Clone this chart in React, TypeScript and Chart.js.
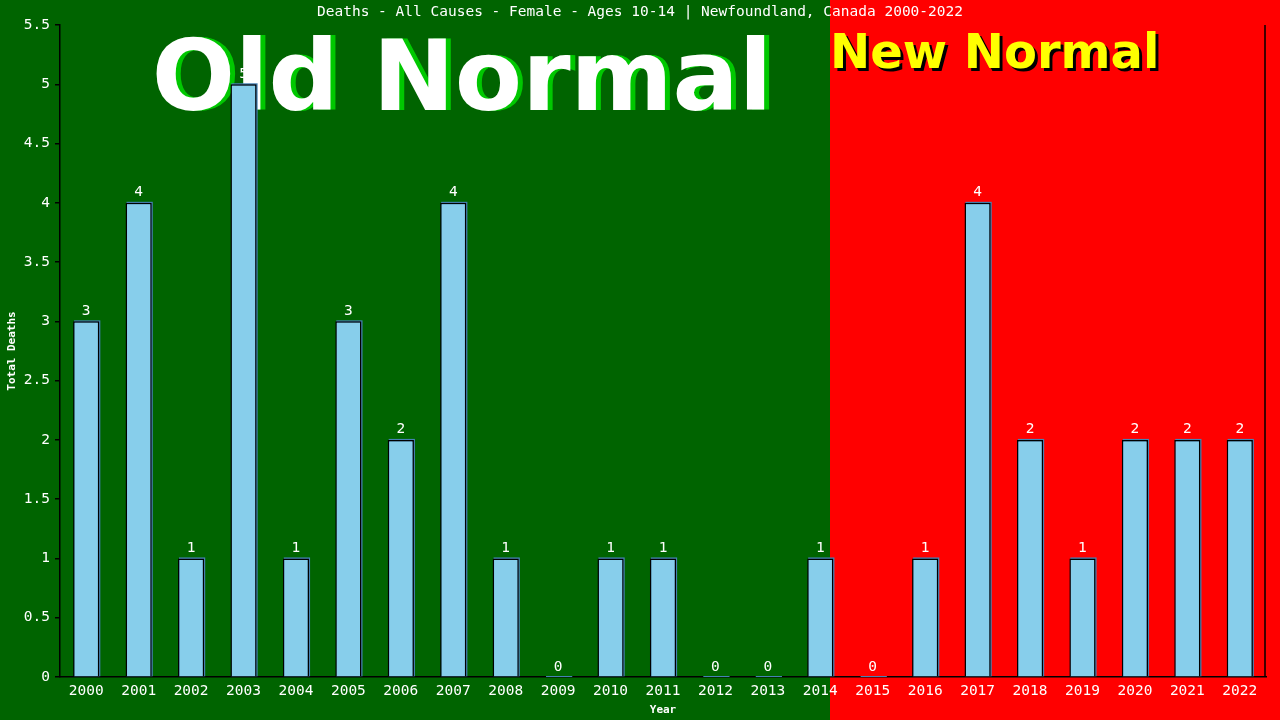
import React, { useEffect, useRef } from 'react';
import { Chart, registerables } from 'chart.js';

Chart.register(...registerables);

const years = [
  '2000', '2001', '2002', '2003', '2004', '2005', '2006', '2007', '2008', '2009', '2010', '2011',
  '2012', '2013', '2014', '2015', '2016', '2017', '2018', '2019', '2020', '2021', '2022',
];
const deaths = [3, 4, 1, 5, 1, 3, 2, 4, 1, 0, 1, 1, 0, 0, 1, 0, 1, 4, 2, 1, 2, 2, 2];
const lastOldNormalIndex = 14;
const chartTitle = 'Deaths - All Causes - Female - Ages 10-14 | Newfoundland, Canada 2000-2022';

const monoFont = '"DejaVu Sans Mono", monospace';

const backdropPlugin = {
  id: 'backdrop',
  beforeDraw(chart: any) {
    const { ctx, width, height, scales } = chart;
    const split = Math.round(scales.x.getPixelForValue(lastOldNormalIndex) + 10);
    ctx.save();
    ctx.fillStyle = '#006400';
    ctx.fillRect(0, 0, split, height);
    ctx.fillStyle = '#ff0000';
    ctx.fillRect(split, 0, width - split, height);

    ctx.fillStyle = '#ffffff';
    ctx.font = `14.5px ${monoFont}`;
    ctx.textAlign = 'center';
    ctx.textBaseline = 'middle';
    ctx.fillText(chartTitle, width / 2, 12);

    ctx.font = 'bold 98px "DejaVu Sans", sans-serif';
    ctx.textAlign = 'center';
    ctx.textBaseline = 'alphabetic';
    const oldX = (scales.x.left + split) / 2 + 17;
    ctx.fillStyle = '#00c800';
    ctx.fillText('Old Normal', oldX + 5, 110);
    ctx.fillStyle = '#ffffff';
    ctx.fillText('Old Normal', oldX, 110);

    ctx.font = 'bold 48px "DejaVu Sans", sans-serif';
    ctx.textAlign = 'left';
    ctx.fillStyle = '#000000';
    ctx.fillText('New Normal', split + 3, 71);
    ctx.fillStyle = '#ffff00';
    ctx.fillText('New Normal', split, 68);
    ctx.restore();
  },
  beforeDatasetsDraw(chart: any) {
    const { ctx } = chart;
    const meta = chart.getDatasetMeta(0);
    ctx.save();
    ctx.fillStyle = '#4682b4';
    meta.data.forEach((bar: any) => {
      const w = bar.width;
      const top = bar.y;
      ctx.fillRect(bar.x - w / 2 + 1, top - 1, w, bar.base - top + 1 || 1);
    });
    ctx.restore();
  },
  afterDatasetsDraw(chart: any) {
    const { ctx, chartArea } = chart;
    const meta = chart.getDatasetMeta(0);
    ctx.save();
    ctx.fillStyle = '#ffffff';
    ctx.font = `14.5px ${monoFont}`;
    ctx.textAlign = 'center';
    ctx.textBaseline = 'bottom';
    meta.data.forEach((bar: any, i: number) => {
      ctx.fillText(String(deaths[i]), bar.x, bar.y - 3);
    });
    ctx.strokeStyle = '#000000';
    ctx.lineWidth = 1.5;
    ctx.beginPath();
    ctx.moveTo(Math.round(chartArea.right) - 1, chartArea.top);
    ctx.lineTo(Math.round(chartArea.right) - 1, chartArea.bottom);
    ctx.stroke();
    ctx.restore();
  },
};

const App = () => {
  const canvasRef = useRef<HTMLCanvasElement | null>(null);

  useEffect(() => {
    const ctx = canvasRef.current?.getContext('2d') as any;
    const chart = new Chart(ctx, {
      type: 'bar',
      data: {
        labels: years,
        datasets: [
          {
            data: deaths,
            backgroundColor: '#87ceeb',
            borderColor: '#000000',
            borderWidth: 1.5,
            borderSkipped: 'bottom',
            barPercentage: 0.5,
            categoryPercentage: 1,
          },
        ],
      },
      options: {
        animation: false,
        responsive: false,
        devicePixelRatio: 1,
        layout: {
          padding: { top: 25, right: 14, left: 0, bottom: 0 },
        },
        scales: {
          x: {
            grid: { display: false },
            border: { color: '#000000', width: 1.5 },
            ticks: {
              color: '#ffffff',
              font: { family: monoFont, size: 14.5 },
              maxRotation: 0,
              autoSkip: false,
              padding: -2,
            },
            title: {
              display: true,
              text: 'Year',
              color: '#ffffff',
              font: { family: monoFont, size: 11, weight: 'bold' },
              padding: { top: 0, bottom: 3 },
            },
            afterFit(scale: any) {
              scale.height = 43;
            },
          },
          y: {
            min: 0,
            max: 5.5,
            grid: {
              drawOnChartArea: false,
              color: '#000000',
              lineWidth: 1.5,
              tickLength: 5,
            },
            border: { color: '#000000', width: 1.5 },
            ticks: {
              stepSize: 0.5,
              color: '#ffffff',
              font: { family: monoFont, size: 14.5 },
              padding: 5,
              callback: (value: any) => String(Number(value)),
            },
            title: {
              display: true,
              text: 'Total Deaths',
              color: '#ffffff',
              font: { family: monoFont, size: 11, weight: 'bold' },
              padding: { top: 6, bottom: 0 },
            },
            afterFit(scale: any) {
              scale.width = 60;
            },
          },
        },
        plugins: {
          legend: { display: false },
          tooltip: { enabled: false },
          title: { display: false },
        },
        events: [],
      },
      plugins: [backdropPlugin],
    });

    return () => {
      chart.destroy();
    };
  }, [canvasRef]);

  return (
    <div style={{ position: 'fixed', left: 0, top: 0, width: 1280, height: 720 }}>
      <canvas ref={canvasRef} width={1280} height={720} />
    </div>
  );
};

export default App;
